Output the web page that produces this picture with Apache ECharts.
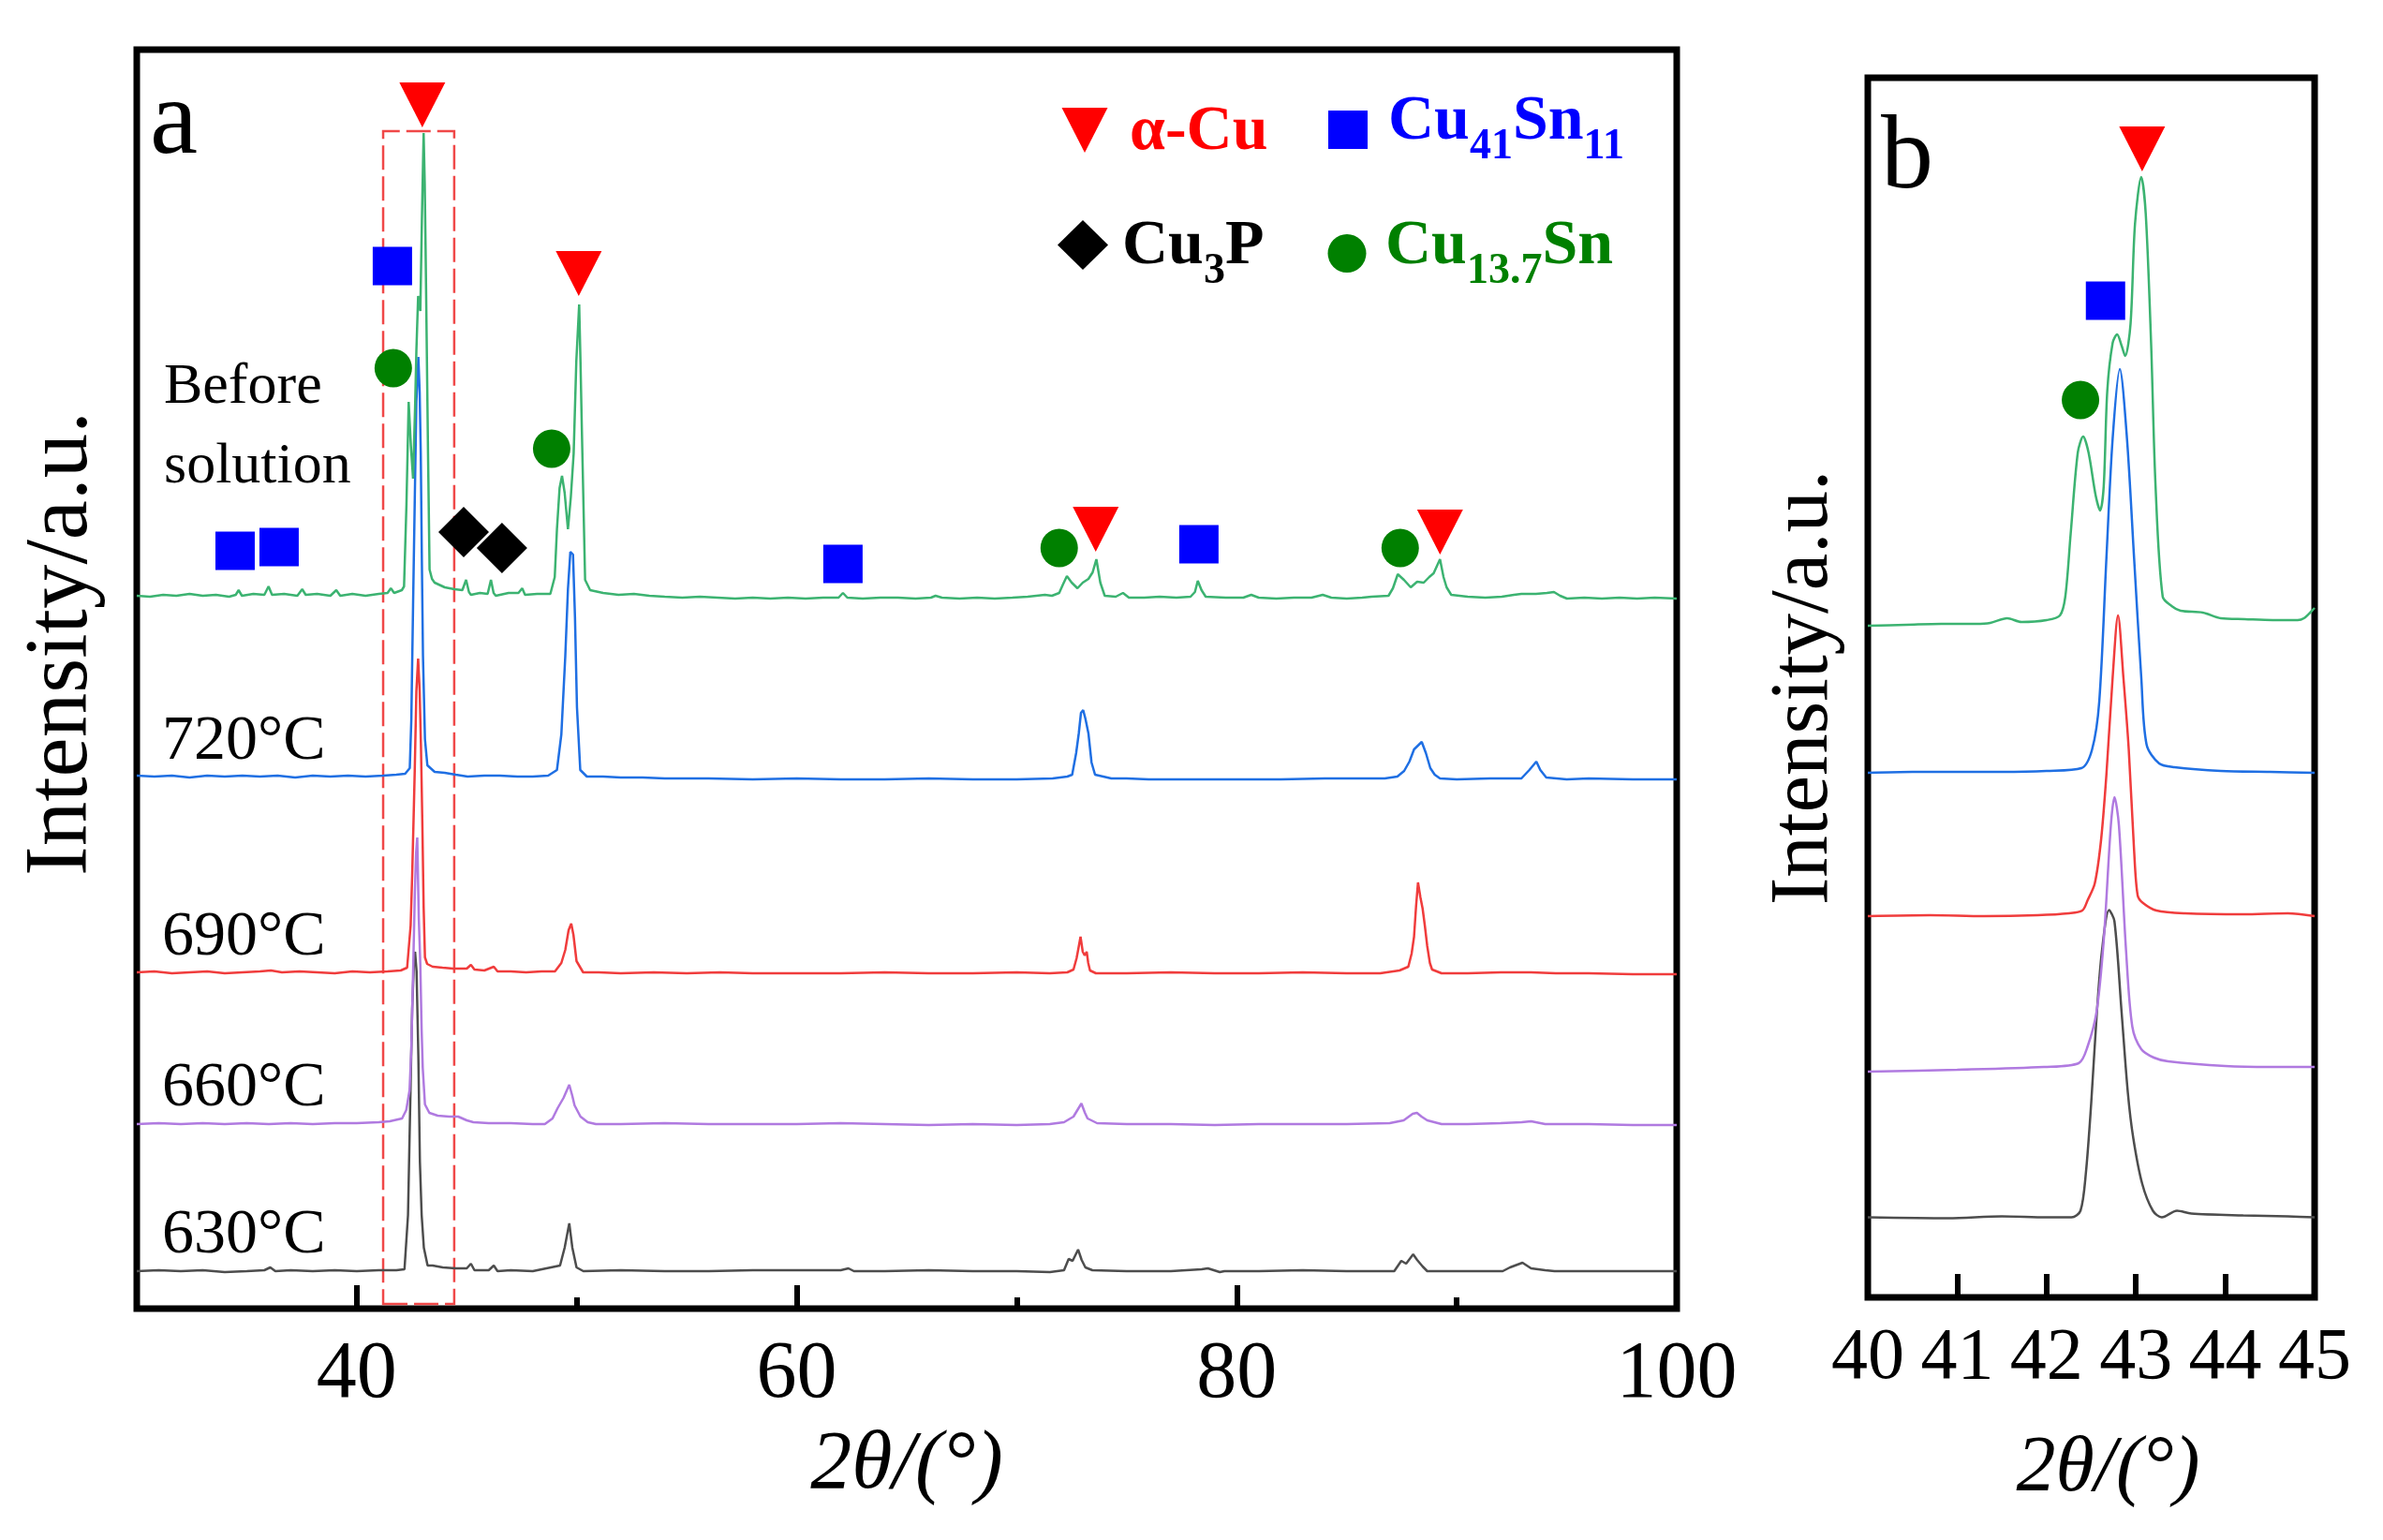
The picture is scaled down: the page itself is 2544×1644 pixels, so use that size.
<!DOCTYPE html>
<html>
<head>
<meta charset="utf-8">
<title>XRD patterns</title>
<script src="https://cdn.jsdelivr.net/npm/echarts@6/dist/echarts.min.js"></script>
<style>html,body{margin:0;padding:0;background:#fff;}</style>
</head>
<body>
<div id="main" style="width:2544px;height:1644px;"></div>
<script type="text/javascript">
// ---- data: [2theta, intensity above own baseline] ----
var beforeA = [[30.0,0],[30.6,-1],[31.2,1],[31.8,0],[32.4,2],[33.0,0],[33.6,1],[34.2,-1],[34.5,1],[34.63,6],[34.78,0],[35.3,2],[35.8,1],[35.99,10],[36.15,1],[36.7,2],[37.3,0],[37.52,7],[37.68,1],[38.2,2],[38.8,0],[39.07,6],[39.25,0],[39.8,2],[40.4,0],[41.0,2],[41.4,3],[41.55,8],[41.7,3],[42.05,6],[42.15,10],[42.26,98],[42.36,207],[42.46,160],[42.56,125],[42.65,200],[42.71,261],[42.79,320],[42.85,310],[42.89,304],[42.96,400],[43.04,494],[43.09,440],[43.13,369],[43.24,152],[43.31,28],[43.42,18],[43.54,14],[44.0,9],[44.44,7],[44.8,6],[44.97,17],[45.1,4],[45.19,1],[45.6,3],[45.95,2],[46.10,17],[46.22,3],[46.32,0],[46.9,3],[47.35,3],[47.52,8],[47.65,1],[48.2,2],[48.8,2],[49.0,20],[49.10,71],[49.22,115],[49.33,128],[49.45,110],[49.60,71],[49.73,105],[49.86,152],[49.98,250],[50.11,311],[50.17,250],[50.23,180],[50.38,17],[50.61,6],[51.2,3],[51.9,1],[52.6,2],[53.3,0],[54.0,-1],[54.8,-2],[55.6,-1],[56.4,-2],[57.2,-3],[58.0,-2],[58.8,-3],[59.6,-2],[60.4,-3],[61.2,-2],[61.9,-2],[62.10,3],[62.3,-2],[63.0,-3],[63.8,-2],[64.6,-2],[65.4,-3],[66.1,-2],[66.31,0],[66.6,-2],[67.4,-3],[68.2,-2],[69.0,-3],[69.8,-2],[70.5,-1],[71.28,1],[71.6,0],[71.93,3],[72.1,12],[72.28,21],[72.5,14],[72.76,8],[73.0,14],[73.26,18],[73.45,25],[73.62,39],[73.8,14],[74.0,0],[74.5,-1],[74.83,3],[75.1,-2],[75.8,-2],[76.5,-1],[77.26,-2],[77.9,-1],[78.1,4],[78.23,16],[78.4,6],[78.59,-1],[79.5,-2],[80.3,-2],[80.66,1],[81.0,-2],[81.8,-3],[82.6,-2],[83.4,-2],[83.91,1],[84.3,-2],[85.0,-3],[85.7,-2],[86.13,-1],[86.9,0],[87.1,8],[87.32,23],[87.6,17],[87.91,9],[88.2,15],[88.50,14],[88.75,20],[88.95,24],[89.24,39],[89.40,20],[89.54,9],[89.75,1],[90.5,-1],[91.3,-2],[92.05,-1],[92.6,1],[92.94,2],[93.6,2],[94.1,3],[94.42,4],[94.7,0],[95.01,-3],[95.8,-2],[96.6,-3],[97.4,-2],[98.2,-3],[99.0,-2],[100,-3]];
var t720A = [[30,1],[30.8,0],[31.6,1],[32.4,-1],[33.2,1],[34.0,0],[34.8,1],[35.6,0],[36.4,1],[37.2,-1],[38.0,1],[38.8,0],[39.6,1],[40.4,0],[41.2,1],[41.8,2],[42.2,3],[42.41,9],[42.48,60],[42.56,183],[42.64,300],[42.71,400],[42.80,448],[42.86,410],[42.91,345],[42.96,230],[43.01,129],[43.1,40],[43.21,12],[43.54,5],[44.0,4],[44.5,2],[45.04,0],[45.8,1],[46.5,1],[47.3,0],[48.0,0],[48.7,1],[49.10,7],[49.30,45],[49.48,129],[49.60,200],[49.71,240],[49.83,237],[49.92,170],[50.01,74],[50.16,7],[50.46,0],[51.2,0],[52,-1],[53,-1],[54,-2],[55,-2],[56,-2],[58,-3],[60,-2],[62,-3],[64,-3],[66,-2],[68,-3],[70,-3],[71.63,-2],[72.3,0],[72.52,2],[72.7,25],[72.82,46],[72.92,68],[73.02,71],[73.12,62],[73.26,46],[73.4,15],[73.56,2],[74.30,-2],[75,-2],[76,-3],[78,-3],[80,-3],[82,-3],[84,-2],[86.73,-2],[87.3,0],[87.61,6],[87.85,16],[88.06,29],[88.41,37],[88.6,25],[88.80,9],[89.0,2],[89.24,-2],[90,-3],[91.5,-2],[92.94,-2],[93.30,7],[93.62,16],[93.8,7],[94.07,-1],[95,-3],[96,-2],[98,-3],[100,-3]];
var t690A = [[30,0],[30.8,1],[31.6,-1],[32.4,0],[33.2,1],[34.0,-1],[34.8,0],[35.6,1],[36.1,2],[36.6,0],[37.4,1],[38.2,0],[39.0,-1],[39.8,1],[40.6,0],[41.4,1],[42.0,2],[42.29,5],[42.45,50],[42.52,104],[42.60,180],[42.64,220],[42.71,300],[42.79,335],[42.86,300],[42.92,240],[42.98,161],[43.04,70],[43.10,16],[43.2,9],[43.45,6],[43.9,5],[44.38,4],[44.8,4],[45.0,4],[45.19,8],[45.35,3],[45.8,2],[46.23,6],[46.4,1],[47.0,1],[47.7,0],[48.4,1],[49.01,1],[49.3,10],[49.48,24],[49.63,45],[49.75,52],[49.85,40],[49.99,12],[50.29,0],[51,0],[52,-1],[53.5,0],[55,-1],[56.5,0],[58,-1],[60,-1],[62,-1],[64,0],[66,-1],[68,-1],[70,0],[71.5,-1],[72.3,0],[72.58,3],[72.72,15],[72.80,25],[72.90,38],[73.00,22],[73.09,18],[73.18,22],[73.25,10],[73.33,2],[73.6,-1],[75,-1],[77,0],[79,-1],[81,-1],[83,0],[85,-1],[86.52,-1],[87.4,2],[87.80,6],[87.95,20],[88.06,38],[88.15,70],[88.24,96],[88.35,80],[88.45,68],[88.55,50],[88.66,28],[88.78,10],[88.88,3],[89.31,-1],[90.5,-1],[92,0],[93.38,0],[94.5,-1],[96,-1],[98,-2],[100,-2]];
var t660A = [[30,0],[31,1],[32,0],[33,1],[34,0],[35,1],[36,0],[37,1],[38,0],[39,1],[40,1],[41,2],[41.5,3],[42.06,6],[42.25,15],[42.40,36],[42.48,80],[42.55,150],[42.64,247],[42.70,290],[42.75,306],[42.82,220],[42.89,170],[42.95,100],[43.00,60],[43.10,21],[43.30,12],[43.68,9],[44.2,8],[44.61,8],[45.0,4],[45.30,2],[46,1],[47,1],[48,0],[48.55,0],[48.9,6],[49.13,17],[49.4,28],[49.66,42],[49.8,30],[49.9,20],[50.17,8],[50.5,2],[50.87,0],[52,0],[54,1],[56,0],[58,0],[60,0],[62,1],[64,0],[66,-1],[68,0],[70,-1],[71.5,0],[72.15,2],[72.58,8],[72.94,22],[73.1,12],[73.22,6],[73.65,1],[75,0],[77,0],[79,-1],[81,0],[83,0],[85,0],[86.95,1],[87.59,4],[88.0,11],[88.19,12],[88.4,8],[88.66,4],[89.31,0],[90.5,0],[92,1],[92.95,2],[93.38,3],[94.02,0],[96,0],[98,-1],[100,-1]];
var t630A = [[30,0],[31,1],[32,0],[33,1],[34,-1],[35,0],[35.8,1],[36.07,4],[36.3,0],[37,1],[38,0],[39,1],[40,0],[41,1],[41.8,1],[42.17,2],[42.33,60],[42.45,200],[42.52,280],[42.60,330],[42.65,341],[42.72,320],[42.80,230],[42.87,117],[42.95,60],[43.05,25],[43.22,6],[43.45,6],[43.91,4],[44.5,3],[45.0,3],[45.19,8],[45.35,1],[46.0,1],[46.23,6],[46.4,0],[47,1],[48,0],[49.24,6],[49.45,25],[49.66,51],[49.8,25],[49.99,4],[50.3,0],[52,1],[54,0],[56,0],[58,1],[60,1],[62.0,1],[62.35,3],[62.6,0],[64,0],[66,1],[68,0],[70,0],[71.51,-1],[72.15,1],[72.36,13],[72.54,11],[72.79,23],[72.95,12],[73.12,4],[73.44,1],[75,0],[77,0],[78.4,2],[78.69,3],[79.23,-1],[79.44,0],[81,0],[83,1],[85,0],[87.16,0],[87.48,11],[87.70,8],[88.02,18],[88.2,12],[88.45,5],[88.66,0],[90,0],[92.09,0],[92.42,4],[92.99,9],[93.38,3],[94.02,1],[94.45,0],[96,0],[98,0],[100,0]];

var beforeB = [[40.0,-1],[40.43,0],[40.82,1],[41.21,1],[41.37,2],[41.56,7],[41.72,3],[42.0,5],[42.15,10],[42.21,30],[42.27,97],[42.35,184],[42.41,201],[42.47,184],[42.55,138],[42.60,122],[42.64,148],[42.68,250],[42.74,301],[42.79,310],[42.84,298],[42.88,287],[42.94,321],[42.99,428],[43.06,478],[43.11,439],[43.17,301],[43.22,148],[43.30,30],[43.40,20],[43.50,15],[43.75,13],[43.95,7],[44.22,6],[44.53,5],[44.81,5],[44.88,7],[44.97,15],[45.0,18]];
var t720B = [[40.0,0],[40.5,1],[41.0,1],[41.5,1],[42.0,2],[42.39,5],[42.51,25],[42.59,76],[42.67,229],[42.74,357],[42.82,431],[42.90,357],[42.98,229],[43.06,102],[43.12,30],[43.26,10],[43.43,6],[43.95,2],[44.5,1],[45.0,0]];
var t690B = [[40.0,0],[40.7,1],[41.3,0],[41.9,1],[42.25,3],[42.40,6],[42.46,17],[42.54,35],[42.61,81],[42.67,151],[42.74,255],[42.80,321],[42.86,255],[42.92,178],[42.98,70],[43.02,22],[43.08,14],[43.23,6],[43.55,3],[44.2,2],[44.7,3],[45.0,0]];
var t660B = [[40.0,0],[41.0,2],[41.97,5],[42.36,9],[42.46,27],[42.56,64],[42.64,140],[42.72,263],[42.76,293],[42.81,263],[42.89,129],[42.96,48],[43.06,24],[43.20,15],[43.36,11],[44.0,6],[44.5,5],[45.0,5]];
var t630B = [[40.0,0],[40.9,-1],[41.5,1],[42.0,0],[42.28,0],[42.38,7],[42.44,47],[42.50,122],[42.56,214],[42.62,284],[42.70,328],[42.76,316],[42.84,219],[42.91,133],[42.97,85],[43.07,36],[43.19,7],[43.29,0],[43.46,7],[43.62,4],[44.2,2],[44.7,1],[45.0,0]];

// stacking offsets (a.u.), order: before, 720, 690, 660, 630
var offsetsA = [761, 568, 359, 197, 40];
var offsetsB = [718, 560, 407, 241, 85.5];
var curveNames = ['Before solution', '720°C', '690°C', '660°C', '630°C'];
var curveColors = ['#3cb371', '#1f6fe3', '#f03c3c', '#b07ae0', '#4d4d4d'];

// phase markers [2theta, a.u.]
var cuMarksA = [[42.98,1285],[50.09,1105],[73.59,832],[89.24,829]];
var cu41MarksA = [[34.47,809],[36.47,813],[41.62,1113],[62.10,795],[78.28,816]];
var cu3pMarksA = [[44.86,829],[46.60,812]];
var cu137MarksA = [[41.66,1004],[48.86,918],[71.93,812],[87.43,812]];
var cuMarksB = [[43.07,1226]];
var cu41MarksB = [[42.66,1064]];
var cu137MarksB = [[42.38,958]];

// dashed box around the (111) region
var boxA = [[41.2, 5], [44.43, 1257]];

var ticksA = [40, 60, 80, 100];
var minorTicksA = [50, 70, 90];

var FONT = "'Liberation Serif', 'Times New Roman', serif";

function shift(arr, off) {
    return arr.map(function (p) { return [p[0], p[1] + off]; });
}

var myChart = echarts.init(document.getElementById('main'));

var curvesA = [beforeA, t720A, t690A, t660A, t630A];
var curvesB = [beforeB, t720B, t690B, t660B, t630B];

var series = [];
// draw 630 first so the upper ones lie on top
for (var i = 4; i >= 0; i--) {
    var s = {
        name: curveNames[i], type: 'line', xAxisIndex: 0, yAxisIndex: 0,
        data: shift(curvesA[i], offsetsA[i]),
        symbol: 'none', lineStyle: {color: curveColors[i], width: 2.5}, z: 2
    };
    if (i === 4) {
        s.markArea = {
            silent: true,
            label: {show: false},
            itemStyle: {color: 'rgba(0,0,0,0)', borderColor: '#f04848', borderWidth: 2.5, borderType: [26, 7]},
            data: [[{coord: boxA[0]}, {coord: boxA[1]}]]
        };
    }
    series.push(s);
}
for (var j = 4; j >= 0; j--) {
    series.push({
        name: curveNames[j] + ' b', type: 'line', xAxisIndex: 2, yAxisIndex: 1,
        data: shift(curvesB[j], offsetsB[j]), smooth: 0.3,
        symbol: 'none', lineStyle: {color: curveColors[j], width: 2.5}, z: 2
    });
}

function marks(data, xi, yi, symbol, size, color, rotate) {
    return {
        type: 'scatter', xAxisIndex: xi, yAxisIndex: yi, data: data,
        symbol: symbol, symbolSize: size, symbolRotate: rotate || 0,
        itemStyle: {color: color, opacity: 1}, z: 5, silent: true
    };
}
series.push(marks(cuMarksA, 0, 0, 'triangle', [49, 48], '#ff0000', 180));
series.push(marks(cu41MarksA, 0, 0, 'rect', [42, 41], '#0000ff'));
series.push(marks(cu3pMarksA, 0, 0, 'diamond', [54, 54], '#000000'));
series.push(marks(cu137MarksA, 0, 0, 'circle', [40, 41], '#008000'));
series.push(marks(cuMarksB, 2, 1, 'triangle', [49, 48], '#ff0000', 180));
series.push(marks(cu41MarksB, 2, 1, 'rect', [42, 41], '#0000ff'));
series.push(marks(cu137MarksB, 2, 1, 'circle', [40, 41], '#008000'));

function label(text, x, y, size, lh) {
    return {
        type: 'text', x: x, y: y, z: 10, silent: true,
        style: {text: text, fontFamily: FONT, fontSize: size, lineHeight: lh, fill: '#000',
                align: 'left', verticalAlign: 'top'}
    };
}
function legendText(text, x, y, color) {
    return {
        type: 'text', x: x, y: y, z: 10, silent: true,
        style: {
            text: text, fontFamily: FONT, fontSize: 68, fontWeight: 'bold', lineHeight: 100,
            fill: color, align: 'left', verticalAlign: 'top',
            rich: {
                m: {fontFamily: FONT, fontSize: 68, fontWeight: 'bold', lineHeight: 100, fill: color},
                s: {fontFamily: FONT, fontSize: 46, fontWeight: 'bold', lineHeight: 46, padding: [54, 0, 0, 0], fill: color}
            }
        }
    };
}

var option = {
    backgroundColor: '#fff',
    animation: false,
    grid: [
        {left: 146, top: 53, width: 1644, height: 1344, show: true, borderColor: '#000', borderWidth: 7, backgroundColor: 'transparent'},
        {left: 1994, top: 83, width: 477, height: 1302, show: true, borderColor: '#000', borderWidth: 7, backgroundColor: 'transparent'}
    ],
    xAxis: [
        {
            type: 'value', gridIndex: 0, min: 30, max: 100, position: 'bottom',
            name: '2θ/(°)', nameLocation: 'middle', nameGap: 124,
            nameTextStyle: {fontFamily: FONT, fontSize: 88, fontStyle: 'italic', color: '#000'},
            axisLine: {show: false},
            axisTick: {show: true, inside: true, length: 25, customValues: [40, 60, 80], lineStyle: {color: '#000', width: 6}},
            axisLabel: {show: true, margin: 28, customValues: ticksA, fontFamily: FONT, fontSize: 86, color: '#000'},
            splitLine: {show: false}
        },
        {
            type: 'value', gridIndex: 0, min: 30, max: 100, position: 'bottom',
            axisLine: {show: false},
            axisTick: {show: true, inside: true, length: 12, customValues: minorTicksA, lineStyle: {color: '#000', width: 6}},
            axisLabel: {show: false},
            splitLine: {show: false}
        },
        {
            type: 'value', gridIndex: 1, min: 40, max: 45, interval: 1, position: 'bottom',
            name: '2θ/(°)', nameLocation: 'middle', nameGap: 142,
            nameTextStyle: {fontFamily: FONT, fontSize: 84, fontStyle: 'italic', color: '#000', padding: [0, 0, 0, 36]},
            axisLine: {show: false},
            axisTick: {show: true, inside: true, length: 25, lineStyle: {color: '#000', width: 6}},
            axisLabel: {show: true, margin: 27, fontFamily: FONT, fontSize: 78, color: '#000'},
            splitLine: {show: false}
        }
    ],
    yAxis: [
        {
            type: 'value', gridIndex: 0, min: 0, max: 1344,
            name: 'Intensity/a.u.', nameLocation: 'middle', nameGap: 31,
            nameTextStyle: {fontFamily: FONT, fontSize: 95, color: '#000', padding: [0, 0, 0, 76]},
            axisLine: {show: false}, axisTick: {show: false}, axisLabel: {show: false}, splitLine: {show: false}
        },
        {
            type: 'value', gridIndex: 1, min: 0, max: 1302,
            name: 'Intensity/a.u.', nameLocation: 'middle', nameGap: 23,
            nameTextStyle: {fontFamily: FONT, fontSize: 89, color: '#000'},
            axisLine: {show: false}, axisTick: {show: false}, axisLabel: {show: false}, splitLine: {show: false}
        }
    ],
    graphic: [
        label('a', 160, 75, 115, 115),
        label('b', 2008, 115, 112, 112),
        label('Before\nsolution', 175, 371, 62, 85),
        label('720°C', 173, 758, 68, 68),
        label('690°C', 173, 967, 68, 68),
        label('660°C', 173, 1128, 68, 68),
        label('630°C', 173, 1285, 68, 68),
        // legend
        {type: 'polygon', silent: true, z: 10, shape: {points: [[1133.5, 115], [1182.5, 115], [1158, 163]]}, style: {fill: '#ff0000'}},
        {type: 'rect', silent: true, z: 10, shape: {x: 1418, y: 118, width: 42, height: 41}, style: {fill: '#0000ff'}},
        {type: 'polygon', silent: true, z: 10, shape: {points: [[1156, 235], [1183, 261.5], [1156, 288], [1129, 261.5]]}, style: {fill: '#000000'}},
        {type: 'circle', silent: true, z: 10, shape: {cx: 1438, cy: 270.5, r: 20.5}, style: {fill: '#008000'}},
        legendText('{m|α-Cu}', 1206, 91, '#ff0000'),
        legendText('{m|Cu}{s|41}{m|Sn}{s|11}', 1482, 80, '#0000ff'),
        legendText('{m|Cu}{s|3}{m|P}', 1198, 213, '#000000'),
        legendText('{m|Cu}{s|13.7}{m|Sn}', 1479, 213, '#008000')
    ],
    series: series
};

myChart.setOption(option);
</script>
</body>
</html>
